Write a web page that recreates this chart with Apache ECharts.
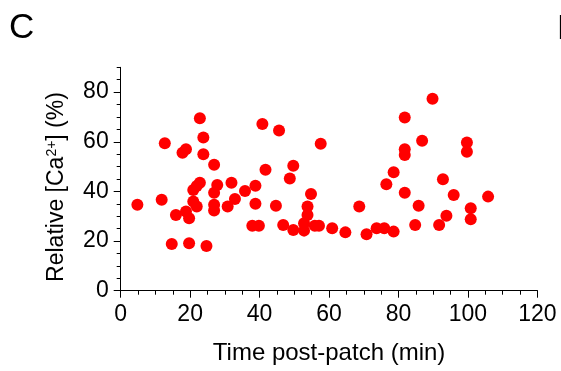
<!DOCTYPE html>
<html><head><meta charset="utf-8">
<script src="https://cdn.jsdelivr.net/npm/echarts@6/dist/echarts.min.js"></script>
<style>html,body{margin:0;padding:0;background:#fff}#c{width:561px;height:371px}</style>
</head><body><div id="c"></div>
<script>
const timeMin = [4.8,11.8,12.7,17.8,18.8,22.8,23.8,23.8,26.9,22.8,21.9,20.9,27.8,26.9,31.9,35.8,32.9,30.8,20.9,21.9,26.9,26.9,18.8,19.7,15.9,14.7,19.7,24.7,37.9,39.8,40.8,45.6,57.6,41.7,49.7,48.7,38.8,38.8,44.7,54.8,53.8,53.8,52.8,46.8,49.7,52.8,55.9,57.1,60.9,64.7,68.7,70.8,73.7,75.9,76.5,78.6,78.6,89.8,81.8,86.8,99.7,99.7,81.8,81.8,92.8,81.8,95.9,105.8,85.8,100.8,100.8,93.8,84.8,91.7];
const relCa = [34.6,36.6,59.4,55.6,57.0,69.5,61.7,55.0,50.7,43.5,42.2,40.6,42.6,39.5,43.5,40.2,36.9,33.9,35.9,33.9,34.6,32.3,31.9,29.2,30.5,18.8,19.1,18.0,26.2,26.2,67.2,64.5,59.2,48.7,50.3,45.2,42.3,35.0,34.2,39.0,33.9,30.5,27.2,26.5,24.5,24.2,26.2,26.2,25.2,23.5,33.9,22.7,25.2,25.2,42.9,47.7,23.8,77.3,69.8,60.4,59.7,56.0,57.0,54.7,44.9,39.5,38.6,37.9,34.2,33.2,28.8,30.2,26.5,26.5];
const xTicks = [0,20,40,60,80,100,120];
const yTicks = [0,20,40,60,80];
const xMax = 120, yMax = 90;

const FONT = '"Liberation Sans", Arial, sans-serif';
const chart = echarts.init(document.getElementById('c'), null, {renderer:'canvas'});
const lineStyle = {color:'#000', width:1};
chart.setOption({
  animation:false,
  backgroundColor:'#fff',
  grid:{left:120.7, right:23.6, top:67.3, bottom:80.3, containLabel:false},
  xAxis:[
    {type:'value', position:'bottom', min:0, max:xMax, interval:20,
     axisLine:{show:true, lineStyle:lineStyle, onZero:false},
     axisTick:{show:true, length:7, lineStyle:lineStyle, customValues:xTicks},
     axisLabel:{show:true, customValues:xTicks, color:'#000', fontFamily:FONT, fontSize:23, margin:12},
     splitLine:{show:false},
     name:'Time post-patch (min)', nameLocation:'middle', nameGap:51,
     nameTextStyle:{color:'#000', fontFamily:FONT, fontSize:24}},
    {type:'value', position:'bottom', min:0, max:xMax, interval:5,
     axisLine:{show:false, onZero:false},
     axisTick:{show:true, length:4, lineStyle:lineStyle},
     axisLabel:{show:false}, splitLine:{show:false}}
  ],
  yAxis:[
    {type:'value', position:'left', min:0, max:yMax, interval:20,
     axisLine:{show:true, lineStyle:lineStyle, onZero:false},
     axisTick:{show:true, length:7, lineStyle:lineStyle, customValues:yTicks},
     axisLabel:{show:true, customValues:yTicks, color:'#000', fontFamily:FONT, fontSize:23, margin:12},
     splitLine:{show:false},
     name:'Relative [Ca{sup|2+}] (%)', nameLocation:'middle', nameGap:52, nameRotate:90,
     nameTextStyle:{color:'#000', fontFamily:FONT, fontSize:23, padding:[0,16,0,0],
       rich:{sup:{fontFamily:FONT, fontSize:14, color:'#000', verticalAlign:'top', padding:[0,0,10,0]}}}},
    {type:'value', position:'left', min:0, max:yMax, interval:5,
     axisLine:{show:false, onZero:false},
     axisTick:{show:true, length:4, lineStyle:lineStyle},
     axisLabel:{show:false}, splitLine:{show:false}}
  ],
  graphic:[
    {type:'text', left:9, top:11, style:{text:'C', font:'35px '+FONT, fill:'#000'}},
    {type:'text', left:557, top:12, style:{text:'D', font:'35px '+FONT, fill:'#000'}}
  ],
  series:[{
    type:'scatter', xAxisIndex:0, yAxisIndex:0,
    symbol:'circle', symbolSize:12,
    itemStyle:{color:'#ff0000', opacity:1},
    data: timeMin.map((t,i)=>[t, relCa[i]])
  }]
});
</script></body></html>
